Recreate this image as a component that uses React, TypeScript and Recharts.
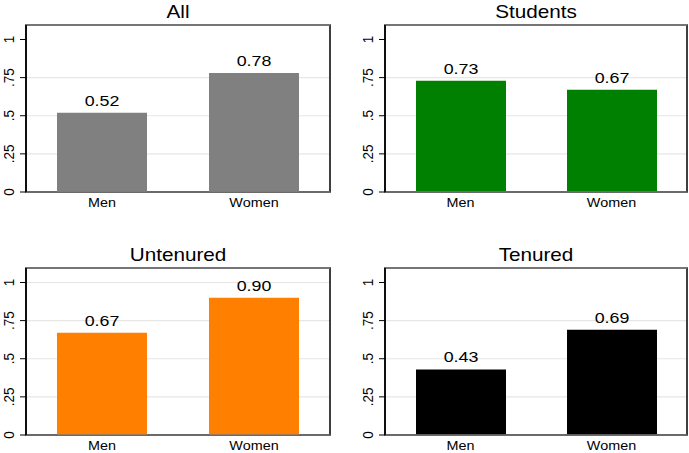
import React from "react";
import { BarChart, Bar, XAxis, YAxis, CartesianGrid, LabelList, ReferenceArea, ReferenceLine } from "recharts";

const categories = ["Men", "Women"];
const panelTitles = ["All", "Students", "Untenured", "Tenured"];
const allValues = [0.52, 0.78];
const studentsValues = [0.73, 0.67];
const untenuredValues = [0.67, 0.9];
const tenuredValues = [0.43, 0.69];
const yTicks = [0, 0.25, 0.5, 0.75, 1];
const yTickLabels = ["0", ".25", ".5", ".75", "1"];
const Y_MAX = 1.095;

const FONT = "'Liberation Sans', Arial, Helvetica, sans-serif";
const SX = 1.15;

const panels = [
  { title: panelTitles[0], values: allValues, color: "#808080", left: 0, top: 0, width: 340, mr: 10, grid: [0.25, 0.5, 0.75] },
  { title: panelTitles[1], values: studentsValues, color: "#008000", left: 359, top: 0, width: 330, mr: 2, grid: [0.25, 0.5, 0.75] },
  { title: panelTitles[2], values: untenuredValues, color: "#ff8000", left: 0, top: 243, width: 340, mr: 10, grid: [0.25, 0.5, 0.75, 1] },
  { title: panelTitles[3], values: tenuredValues, color: "#000000", left: 359, top: 243, width: 330, mr: 2, grid: [0.25, 0.5, 0.75] },
];

const YTick = (props: any) => {
  const { x, y, payload } = props;
  const idx = yTicks.indexOf(payload.value);
  const label = idx >= 0 ? yTickLabels[idx] : String(payload.value);
  return (
    <text
      transform={`translate(${x - 6},${y}) scale(${SX},1) rotate(-90)`}
      textAnchor="middle"
      fontSize={13.5}
      fontFamily={FONT}
      fill="#000"
    >
      {label}
    </text>
  );
};

const XTick = (props: any) => {
  const { x, y, payload } = props;
  return (
    <text
      transform={`translate(${x},${y + 15}) scale(${SX},1)`}
      textAnchor="middle"
      fontSize={12.5}
      fontFamily={FONT}
      fill="#000"
    >
      {payload.value}
    </text>
  );
};

const ValueLabel = (props: any) => {
  const { x, y, width, value } = props;
  return (
    <text
      transform={`translate(${Number(x) + Number(width) / 2},${Number(y) - 7}) scale(${SX},1)`}
      textAnchor="middle"
      fontSize={15.5}
      fontFamily={FONT}
      fill="#000"
    >
      {Number(value).toFixed(2)}
    </text>
  );
};

const Panel = ({ p }: { p: (typeof panels)[number] }) => {
  const data = categories.map((c, i) => ({ name: c, value: p.values[i] }));
  const plotLeft = 26;
  const plotRight = p.width - p.mr;
  const cx = (plotLeft + plotRight) / 2;
  return (
    <div style={{ position: "absolute", left: p.left, top: p.top, width: p.width, height: 212 }}>
      <BarChart
        width={p.width}
        height={212}
        data={data}
        margin={{ top: 25, right: p.mr, bottom: 0, left: 0 }}
        barSize={90}
      >
        <CartesianGrid
          vertical={false}
          horizontalValues={p.grid}
          stroke="#e6e6e6"
          strokeWidth={1.2}
        />
        <ReferenceArea y1={0} y2={Y_MAX} fill="none" stroke="#000" strokeWidth={1.5} ifOverflow="visible" />
        <ReferenceLine y={Y_MAX} stroke="#8a8a8a" strokeWidth={1.5} ifOverflow="visible" />
        <XAxis
          dataKey="name"
          height={20}
          tickSize={0}
          tickMargin={0}
          tickLine={false}
          axisLine={{ stroke: "#7a7a7a", strokeWidth: 1.5 }}
          tick={<XTick />}
        />
        <YAxis
          domain={[0, Y_MAX]}
          ticks={yTicks}
          width={26}
          tickSize={6}
          tickMargin={0}
          tickLine={{ stroke: "#000", strokeWidth: 1 }}
          axisLine={{ stroke: "#000", strokeWidth: 1.5 }}
          tick={<YTick />}
          interval={0}
          allowDataOverflow
        />
        <Bar dataKey="value" fill={p.color} isAnimationActive={false}>
          <LabelList dataKey="value" content={<ValueLabel />} />
        </Bar>
      </BarChart>
      <svg
        width={p.width}
        height={30}
        style={{ position: "absolute", left: 0, top: 0, pointerEvents: "none" }}
      >
        <text
          transform={`translate(${cx},17.5) scale(${SX},1)`}
          textAnchor="middle"
          fontSize={18}
          fontFamily={FONT}
          fill="#000"
        >
          {p.title}
        </text>
      </svg>
    </div>
  );
};

export default function App() {
  return (
    <div style={{ position: "absolute", left: 0, top: 0, width: 689, height: 453, background: "#fff" }}>
      {panels.map((p) => (
        <Panel key={p.title} p={p} />
      ))}
    </div>
  );
}
